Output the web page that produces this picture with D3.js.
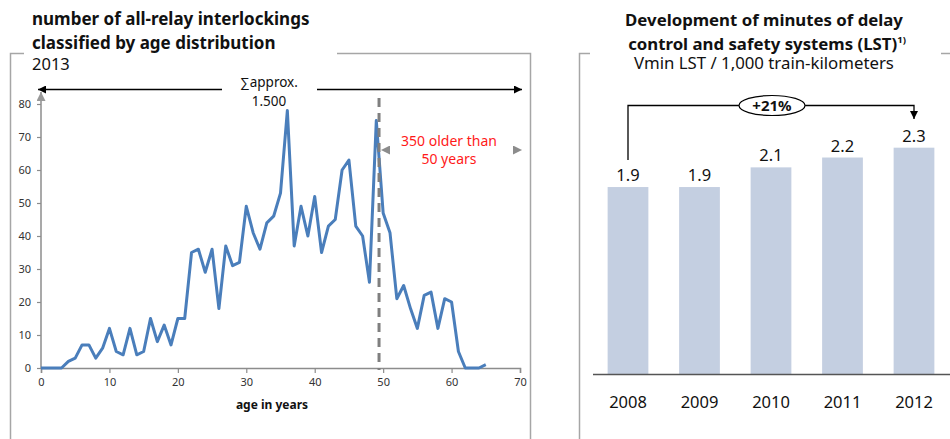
<!DOCTYPE html>
<html><head><meta charset="utf-8">
<script src="https://cdn.jsdelivr.net/npm/d3@7"></script>
<style>
body{margin:0;background:#fff;}
svg{display:block;font-family:"Noto Sans",sans-serif;}
</style></head>
<body>
<svg id="c" width="950" height="439"></svg>
<script>
// ---- Data: left chart (age distribution) ----
const ages = [0,1,2,3,4,5,6,7,8,9,10,11,12,13,14,15,16,17,18,19,20,21,22,23,24,25,26,27,28,29,30,31,32,33,34,35,36,37,38,39,40,41,42,43,44,45,46,47,48,49,50,51,52,53,54,55,56,57,58,59,60,61,62,63,64,65];
const counts = [0,0,0,0,2,3,7,7,3,6,12,5,4,12,4,5,15,8,13,7,15,15,35,36,29,36,18,37,31,32,49,41,36,44,46,53,78,37,49,40,52,35,43,45,60,63,43,40,26,75,47,41,21,25,18,12,22,23,12,21,20,5,0,0,0,1];
const xTicksLeft = [0,10,20,30,40,50,60,70];
const yTicksLeft = [0,10,20,30,40,50,60,70,80];
const cutoffAge = 49.4;

// ---- Data: right chart (delay minutes) ----
const years = ["2008","2009","2010","2011","2012"];
const delayValues = [1.9,1.9,2.1,2.2,2.3];
const delayLabels = ["1.9","1.9","2.1","2.2","2.3"];

const svg = d3.select("#c");
const grey = "#8c8c8c";

// ===== Left panel =====
const xL = d3.scaleLinear().domain([0,70]).range([41,520]);
const yL = d3.scaleLinear().domain([0,80]).range([368,104]);

// frame
svg.append("path").attr("d","M10.5,439 V53.5 H24 M337,53.5 H530.5 V439")
  .attr("fill","none").attr("stroke","#a6a6a6").attr("stroke-width",1.5);

// titles
const tl = svg.append("g").attr("fill","#111");
tl.append("text").attr("x",32).attr("y",25).attr("font-size",17).attr("font-weight","bold").text("number of all-relay interlockings");
tl.append("text").attr("x",32).attr("y",49).attr("font-size",17).attr("font-weight","bold").text("classified by age distribution");
tl.append("text").attr("x",32).attr("y",70).attr("font-size",16.5).text("2013");

// defs for arrowheads
const defs = svg.append("defs");
function marker(id,color,w,h){
  defs.append("marker").attr("id",id).attr("viewBox","0 0 10 10").attr("refX",10).attr("refY",5)
    .attr("markerWidth",w).attr("markerHeight",h).attr("markerUnits","userSpaceOnUse").attr("orient","auto-start-reverse")
    .append("path").attr("d","M0,0 L10,5 L0,10 Z").attr("fill",color);
}
marker("ab","#000",10,8);
marker("ag",grey,9,9);
marker("ag2","#999",9,9);

// x axis
const xAxis = d3.axisBottom(xL).tickValues(xTicksLeft).tickSize(5).tickPadding(5);
const gx = svg.append("g").attr("transform",`translate(0,${yL(0)})`).call(xAxis);
gx.select(".domain").attr("stroke",grey).attr("stroke-width",1.5);
gx.selectAll(".tick line").attr("stroke",grey).attr("stroke-width",1.2);
gx.selectAll(".tick text").attr("font-size",11).attr("fill","#333").attr("font-family","Noto Sans");

// y axis
const yAxis = d3.axisLeft(yL).tickValues(yTicksLeft).tickSize(4).tickPadding(6);
const gy = svg.append("g").attr("transform",`translate(${xL(0)},0)`).call(yAxis);
gy.select(".domain").remove();
gy.selectAll(".tick line").attr("stroke",grey).attr("stroke-width",1.2);
gy.selectAll(".tick text").attr("font-size",11).attr("fill","#333").attr("font-family","Noto Sans");
svg.append("line").attr("x1",xL(0)).attr("x2",xL(0)).attr("y1",yL(0)).attr("y2",yL(80)-12)
  .attr("stroke",grey).attr("stroke-width",1.5).attr("marker-end","url(#ag2)");

svg.append("text").attr("x",272).attr("y",409).attr("text-anchor","middle")
  .attr("font-size",12).attr("font-weight","bold").attr("fill","#111").text("age in years");

// line
const line = d3.line().x((d,i)=>xL(ages[i])).y(d=>yL(d)).curve(d3.curveLinear);
svg.append("path").datum(counts).attr("d",line).attr("fill","none")
  .attr("stroke","#4a7ebb").attr("stroke-width",3).attr("stroke-linejoin","round");

// dashed cutoff
svg.append("line").attr("x1",xL(cutoffAge)).attr("x2",xL(cutoffAge)).attr("y1",98).attr("y2",yL(0)+2)
  .attr("stroke","#7f7f7f").attr("stroke-width",3).attr("stroke-dasharray","9,6");

// top double arrow
svg.append("line").attr("x1",222).attr("x2",xL(0)-3).attr("y1",89.5).attr("y2",89.5)
  .attr("stroke","#000").attr("stroke-width",1.5).attr("marker-end","url(#ab)");
svg.append("line").attr("x1",317).attr("x2",xL(70)+2).attr("y1",89.5).attr("y2",89.5)
  .attr("stroke","#000").attr("stroke-width",1.5).attr("marker-end","url(#ab)");
svg.append("text").attr("x",269).attr("y",87).attr("text-anchor","middle").attr("font-size",13.5).attr("fill","#111").text("∑approx.");
svg.append("text").attr("x",269).attr("y",106).attr("text-anchor","middle").attr("font-size",13.5).attr("fill","#111").text("1.500");

// gray arrow 350 older
svg.append("line").attr("x1",390).attr("x2",381).attr("y1",150).attr("y2",150).attr("stroke",grey).attr("stroke-width",0.1).attr("marker-end","url(#ag)");
svg.append("line").attr("x1",513).attr("x2",522).attr("y1",150).attr("y2",150).attr("stroke",grey).attr("stroke-width",0.1).attr("marker-end","url(#ag)");
svg.append("text").attr("x",449).attr("y",146).attr("text-anchor","middle").attr("font-size",14).attr("fill","#ff1a1a").text("350 older than");
svg.append("text").attr("x",449).attr("y",164).attr("text-anchor","middle").attr("font-size",14).attr("fill","#ff1a1a").text("50 years");

// ===== Right panel =====
svg.append("path").attr("d","M579.5,439 V53.5 H590 M941,53.5 H950")
  .attr("fill","none").attr("stroke","#a6a6a6").attr("stroke-width",1.5);

const tr = svg.append("g").attr("fill","#111").attr("text-anchor","middle");
tr.append("text").attr("x",764).attr("y",26).attr("font-size",16.8).attr("font-weight","bold").text("Development of minutes of delay");
const t2 = tr.append("text").attr("x",767).attr("y",50).attr("font-size",16.8).attr("font-weight","bold");
t2.append("tspan").text("control and safety systems (LST)");
t2.append("tspan").attr("font-size",9.5).attr("dy",-7).text("1)");
tr.append("text").attr("x",764).attr("y",69).attr("font-size",16.8).text("Vmin LST / 1,000 train-kilometers");

const xR = d3.scaleBand().domain(years).range([592.25,949.75]).paddingInner(0.43).paddingOuter(0.215);
const yR = d3.scaleLinear().domain([0,2.5]).range([374,128]);

svg.selectAll(".bar").data(delayValues).enter().append("rect")
  .attr("x",(d,i)=>xR(years[i])).attr("width",xR.bandwidth())
  .attr("y",d=>yR(d)).attr("height",d=>yR(0)-yR(d)).attr("fill","#c4cfe1");

svg.selectAll(".vl").data(delayValues).enter().append("text")
  .attr("x",(d,i)=>xR(years[i])+xR.bandwidth()/2).attr("y",d=>yR(d)-6)
  .attr("text-anchor","middle").attr("font-size",16.5).attr("fill","#111").text((d,i)=>delayLabels[i]);

// baseline axis
const xAxisR = d3.axisBottom(xR).tickSize(0).tickPadding(22);
const gxr = svg.append("g").attr("transform",`translate(0,${yR(0)})`).call(xAxisR);
gxr.select(".domain").attr("d","M593,0.5 H950").attr("stroke","#555").attr("stroke-width",1.3);
gxr.selectAll(".tick text").attr("font-size",16.5).attr("fill","#111").attr("font-family","Noto Sans");

// bracket
const cx0 = xR(years[0])+xR.bandwidth()/2, cx4 = xR(years[4])+xR.bandwidth()/2;
svg.append("path").attr("d",`M${cx0},${yR(delayValues[0])-27} V105.5 H${cx4} V119`)
  .attr("fill","none").attr("stroke","#000").attr("stroke-width",1.3).attr("marker-end","url(#ab)");
svg.append("ellipse").attr("cx",772).attr("cy",105.5).attr("rx",33).attr("ry",10)
  .attr("fill","#fff").attr("stroke","#000").attr("stroke-width",1.2);
svg.append("text").attr("x",772).attr("y",111).attr("text-anchor","middle").attr("font-size",15).attr("font-weight","bold").attr("fill","#111").text("+21%");
</script>
</body></html>
